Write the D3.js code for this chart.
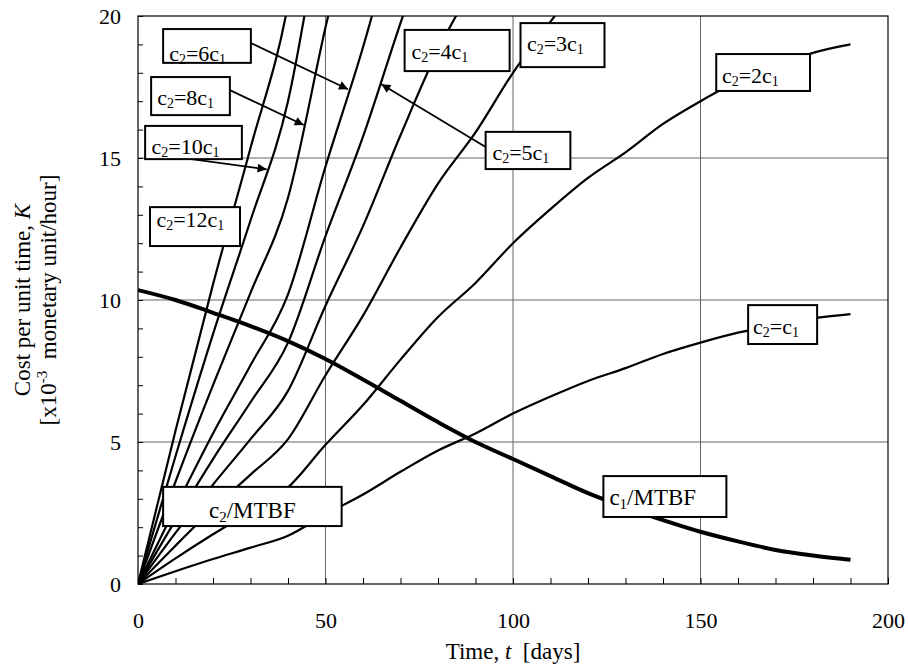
<!DOCTYPE html>
<html>
<head>
<meta charset="utf-8">
<script src="https://cdn.jsdelivr.net/npm/d3@7"></script>
<style>
  body { margin: 0; background: #fff; }
  svg { display: block; font-family: "Liberation Serif", "Times New Roman", serif; }
</style>
</head>
<body>
<svg id="chart" width="908" height="666"></svg>
<script>
// time axis (days)
const days = [0, 10, 20, 30, 40, 50, 60, 70, 80, 90, 100, 110, 120, 130, 140, 150, 160, 170, 180, 190];

// c1/MTBF (thick falling curve)
const c1PerMTBF = [10.35, 10.0, 9.55, 9.08, 8.55, 7.92, 7.2, 6.45, 5.7, 5.0, 4.4, 3.8, 3.2, 2.7, 2.25, 1.84, 1.5, 1.2, 1.0, 0.85];

// c2/MTBF for each cost ratio (steep ones leave the plot at K=20)
const costC1   = [0, 0.45, 0.88, 1.28, 1.7, 2.45, 3.15, 3.95, 4.7, 5.3, 6.0, 6.6, 7.15, 7.6, 8.1, 8.5, 8.85, 9.1, 9.35, 9.5];
const cost2C1  = [0, 0.9, 1.75, 2.55, 3.4, 4.9, 6.3, 7.9, 9.4, 10.6, 12.0, 13.2, 14.3, 15.2, 16.2, 17.0, 17.7, 18.2, 18.7, 19.0];
const cost3C1  = [0, 1.35, 2.65, 3.85, 5.1, 7.35, 9.45, 11.85, 14.1, 15.9, 18.0, 19.8, 21.5];
const cost4C1  = [0, 1.8, 3.5, 5.1, 6.8, 9.8, 12.6, 15.8, 18.8, 21.2];
const cost5C1  = [0, 2.25, 4.4, 6.4, 8.5, 12.25, 15.75, 19.75, 23.5];
const cost6C1  = [0, 2.7, 5.3, 7.7, 10.2, 14.7, 18.9, 23.7];
const cost8C1  = [0, 3.6, 7.0, 10.25, 13.6, 19.6, 25.2];
const cost10C1 = [0, 4.5, 8.8, 12.8, 17.0, 24.5];
const cost12C1 = [0, 5.4, 10.55, 15.35, 20.4, 29.4];

const ratioSeries = [costC1, cost2C1, cost3C1, cost4C1, cost5C1, cost6C1, cost8C1, cost10C1, cost12C1];

// tick labels
const xTickLabels = [0, 50, 100, 150, 200];
const yTickLabels = [0, 5, 10, 15, 20];

const svg = d3.select("#chart");
svg.selectAll("*").remove();

const x = d3.scaleLinear().domain([0, 200]).range([138, 888]);
const y = d3.scaleLinear().domain([0, 20]).range([584, 16]);

const plotW = x(200) - x(0);
const plotH = y(0) - y(20);

svg.append("rect").attr("width", 908).attr("height", 666).attr("fill", "#fff");

//clip for curves leaving the top
svg.append("defs").append("clipPath").attr("id", "plotClip")
  .append("rect")
  .attr("x", x(0)).attr("y", y(20))
  .attr("width", plotW).attr("height", plotH);

//arrow head
svg.select("defs").append("marker")
  .attr("id", "arrow")
  .attr("viewBox", "0 0 10 10")
  .attr("refX", 10).attr("refY", 5)
  .attr("markerUnits", "userSpaceOnUse")
  .attr("markerWidth", 13).attr("markerHeight", 9)
  .attr("orient", "auto")
  .append("path")
  .attr("d", "M0,0L10,5L0,10Z")
  .attr("fill", "#000");

//grid
const grid = svg.append("g");
grid.selectAll(".vg")
  .data([50, 100, 150])
  .join("line")
  .attr("x1", d => x(d)).attr("x2", d => x(d))
  .attr("y1", y(0)).attr("y2", y(20))
  .attr("stroke", "#666").attr("stroke-width", 1);
grid.selectAll(".hg")
  .data([5, 10, 15])
  .join("line")
  .attr("x1", x(0)).attr("x2", x(200))
  .attr("y1", d => y(d)).attr("y2", d => y(d))
  .attr("stroke", "#666").attr("stroke-width", 1);

//curves
const line = d3.line()
  .x((d, i) => x(days[i]))
  .y(d => y(d))
  .curve(d3.curveMonotoneX);

const curves = svg.append("g").attr("clip-path", "url(#plotClip)");
curves.selectAll(".ratio")
  .data(ratioSeries)
  .join("path")
  .attr("d", d => line(d))
  .attr("fill", "none")
  .attr("stroke", "#000")
  .attr("stroke-width", 2.2)
  .attr("stroke-linejoin", "round");

curves.append("path")
  .attr("d", line(c1PerMTBF))
  .attr("fill", "none")
  .attr("stroke", "#000")
  .attr("stroke-width", 4)
  .attr("stroke-linejoin", "round");

//frame
svg.append("rect")
  .attr("x", x(0)).attr("y", y(20))
  .attr("width", plotW).attr("height", plotH)
  .attr("fill", "none").attr("stroke", "#000").attr("stroke-width", 1.2);

//minor ticks pointing inward
svg.append("g")
  .attr("transform", `translate(0,${y(0)})`)
  .call(d3.axisBottom(x).ticks(20).tickSize(-6).tickFormat(""))
  .call(g => g.select(".domain").remove())
  .selectAll("line").attr("stroke", "#000");
svg.append("g")
  .attr("transform", `translate(${x(0)},0)`)
  .call(d3.axisLeft(y).ticks(20).tickSize(-5).tickFormat(""))
  .call(g => g.select(".domain").remove())
  .selectAll("line").attr("stroke", "#000");

//tick labels
svg.append("g")
  .attr("transform", `translate(0,${y(0)})`)
  .call(d3.axisBottom(x).tickValues(xTickLabels).tickSize(0).tickPadding(28))
  .call(g => g.select(".domain").remove())
  .selectAll("text")
  .attr("font-family", "Liberation Serif")
  .attr("font-size", 22)
  .attr("fill", "#000");
svg.append("g")
  .attr("transform", `translate(${x(0)},0)`)
  .call(d3.axisLeft(y).tickValues(yTickLabels).tickSize(0).tickPadding(17))
  .call(g => g.select(".domain").remove())
  .selectAll("text")
  .attr("font-family", "Liberation Serif")
  .attr("font-size", 22)
  .attr("fill", "#000");

//axis titles
const xt = svg.append("text")
  .attr("x", x(100)).attr("y", 659)
  .attr("text-anchor", "middle")
  .attr("font-size", 23);
xt.append("tspan").text("Time, ");
xt.append("tspan").attr("font-style", "italic").text("t");
xt.append("tspan").attr("xml:space", "preserve").text("  [days]");

const yt1 = svg.append("text")
  .attr("transform", "translate(30,300) rotate(-90)")
  .attr("text-anchor", "middle")
  .attr("font-size", 23);
yt1.append("tspan").text("Cost per unit time, ");
yt1.append("tspan").attr("font-style", "italic").text("K");

const yt2 = svg.append("text")
  .attr("transform", "translate(56,300) rotate(-90)")
  .attr("text-anchor", "middle")
  .attr("font-size", 23);
yt2.append("tspan").text("[x10");
yt2.append("tspan").attr("font-size", 15).attr("dy", -9).text("-3");
yt2.append("tspan").attr("dy", 9).attr("xml:space", "preserve").text("  monetary unit/hour]");

//label boxes (box corners and text anchor in data units)
const labels = [
  { k: "6", box: [6.7, 19.54, 30.1, 18.35], tx: 8.3, ty: 18.4 },
  { k: "8", box: [3.5, 17.85, 24.5, 16.51], tx: 5.1, ty: 16.85 },
  { k: "10", box: [1.9, 16.13, 27.7, 14.96], tx: 3.6, ty: 15.15 },
  { k: "12", box: [3.2, 13.27, 27.2, 11.9], tx: 4.9, ty: 12.57 },
  { k: "4", box: [71.1, 19.51, 99.1, 18.06], tx: 72.9, ty: 18.5 },
  { k: "3", box: [102, 19.75, 124.4, 18.2], tx: 103.7, ty: 18.78 },
  { k: "5", box: [92.7, 15.92, 115.3, 14.61], tx: 94.5, ty: 14.93 },
  { k: "2", box: [154.2, 18.66, 179.2, 17.36], tx: 155.7, ty: 17.63 },
  { k: "", box: [162.7, 9.82, 181.1, 8.45], tx: 164.0, ty: 8.8 }
];

//leader arrows [from t, from K, to t, to K]
const arrows = [
  [30.1, 19.05, 56.0, 17.42],
  [24.5, 17.39, 44.2, 16.16],
  [13.3, 14.98, 34.3, 14.6],
  [92.7, 15.39, 64.9, 17.6]
];

svg.append("g").selectAll("line")
  .data(arrows)
  .join("line")
  .attr("x1", d => x(d[0])).attr("y1", d => y(d[1]))
  .attr("x2", d => x(d[2])).attr("y2", d => y(d[3]))
  .attr("stroke", "#000").attr("stroke-width", 1.8)
  .attr("marker-end", "url(#arrow)");

const lab = svg.append("g").selectAll("g")
  .data(labels)
  .join("g");

lab.append("rect")
  .attr("x", d => x(d.box[0])).attr("y", d => y(d.box[1]))
  .attr("width", d => x(d.box[2]) - x(d.box[0]))
  .attr("height", d => y(d.box[3]) - y(d.box[1]))
  .attr("fill", "#fff").attr("stroke", "#000").attr("stroke-width", 2);

lab.each(function(d) {
  const t = d3.select(this).append("text")
    .attr("x", x(d.tx)).attr("y", y(d.ty))
    .attr("font-size", 22);
  t.append("tspan").text("c");
  t.append("tspan").attr("font-size", 14).attr("dy", 3).text("2");
  t.append("tspan").attr("dy", -3).text("=" + d.k + "c");
  t.append("tspan").attr("font-size", 14).attr("dy", 3).text("1");
});

//MTBF boxes
const mtbf = [
  { sub: "2", box: [6.7, 3.42, 54.3, 2.04], tx: 30.5, ty: 2.32, anchor: "middle" },
  { sub: "1", box: [124.1, 3.8, 156.9, 2.36], tx: 125.7, ty: 2.78, anchor: "start" }
];
const mb = svg.append("g").selectAll("g")
  .data(mtbf)
  .join("g");
mb.append("rect")
  .attr("x", d => x(d.box[0])).attr("y", d => y(d.box[1]))
  .attr("width", d => x(d.box[2]) - x(d.box[0]))
  .attr("height", d => y(d.box[3]) - y(d.box[1]))
  .attr("fill", "#fff").attr("stroke", "#000").attr("stroke-width", 2);
mb.each(function(d) {
  const t = d3.select(this).append("text")
    .attr("x", x(d.tx)).attr("y", y(d.ty))
    .attr("text-anchor", d.anchor)
    .attr("font-size", 23);
  t.append("tspan").text("c");
  t.append("tspan").attr("font-size", 15).attr("dy", 4).text(d.sub);
  t.append("tspan").attr("dy", -4).text("/MTBF");
});
</script>
</body>
</html>
